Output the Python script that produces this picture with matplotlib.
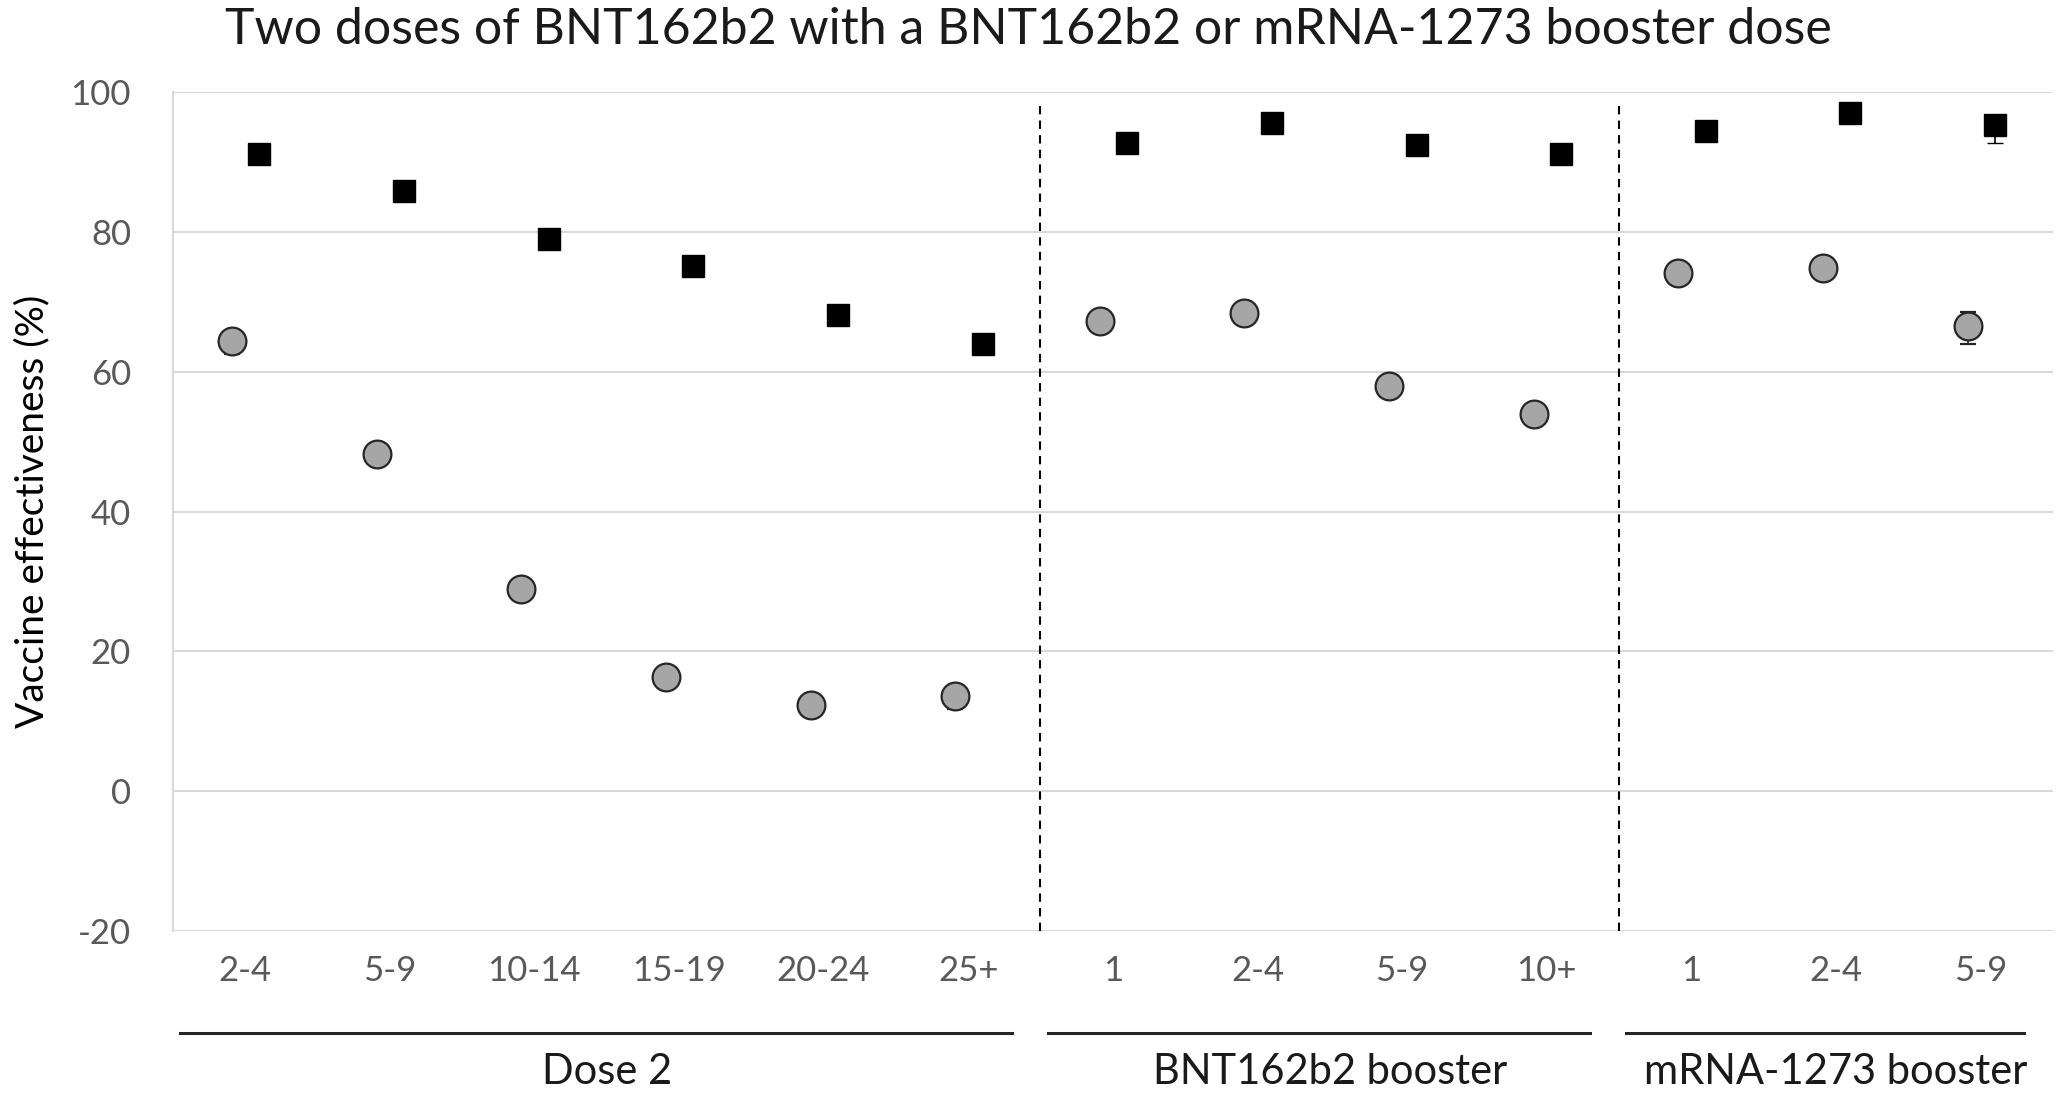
import numpy as np
import matplotlib
matplotlib.use("Agg")
import matplotlib.pyplot as plt
import matplotlib.transforms as mtransforms

plt.rcParams['font.family'] = ['Lato', 'DejaVu Sans']
plt.rcParams['axes.unicode_minus'] = False

# categories (weeks since dose) in three groups
categories = ["2-4", "5-9", "10-14", "15-19", "20-24", "25+",
              "1", "2-4", "5-9", "10+",
              "1", "2-4", "5-9"]
groups = [("Dose 2", 0, 5), ("BNT162b2 booster", 6, 9), ("mRNA-1273 booster", 10, 12)]

# gray circles
ve_circle = [64.4, 48.2, 28.9, 16.4, 12.4, 13.6, 67.3, 68.4, 58.0, 54.0, 74.1, 74.9, 66.5]
circle_lo = [1.8, 1.5, 0.8, 0.6, 0.6, 1.8, 0.5, 0.5, 0.5, 1.2, 0.8, 0.8, 2.5]
circle_hi = [1.0, 0.8, 0.8, 0.6, 0.6, 1.0, 0.5, 0.5, 0.5, 0.8, 0.8, 0.8, 2.0]

# black squares
ve_square = [91.2, 85.9, 79.0, 75.1, 68.1, 64.0, 92.8, 95.6, 92.4, 91.1, 94.4, 97.1, 95.3]
square_lo = [0.5, 0.5, 0.5, 0.5, 0.5, 0.5, 0.5, 0.5, 0.5, 0.5, 0.5, 0.6, 2.5]
square_hi = [0.5, 0.5, 0.5, 0.5, 0.5, 0.5, 0.5, 0.5, 0.5, 0.5, 0.5, 0.5, 0.8]

yticks = [-20, 0, 20, 40, 60, 80, 100]

fig = plt.figure(figsize=(20.56, 10.98), dpi=100)
ax = fig.add_axes([0.084, 0.152, 0.9145, 0.764])

x = np.arange(len(categories))

for yt in yticks:
    ax.axhline(yt, color="#d9d9d9", lw=1.5, zorder=0)

ax.errorbar(x - 0.09, ve_circle, yerr=[circle_lo, circle_hi], fmt="o", ms=20,
            mfc="#a6a6a6", mec="#262626", mew=1.6, ecolor="#262626",
            elinewidth=1.2, capsize=6, zorder=3)
ax.errorbar(x + 0.1, ve_square, yerr=[square_lo, square_hi], fmt="s", ms=16,
            mfc="black", mec="black", ecolor="black",
            elinewidth=1.2, capsize=6, zorder=3)

# dashed separators between groups
for name, start, end in groups[1:]:
    ax.plot([start - 0.5, start - 0.5], [98, -20], color="black", lw=1.5,
            ls=(0, (4, 3)), zorder=2)

ax.set_xlim(-0.5, len(categories) - 0.5)
ax.set_ylim(-20, 100)
ax.set_yticks(yticks)
ax.set_xticks(x)
ax.set_xticklabels(categories)
ax.tick_params(axis="both", length=0, labelsize=25, labelcolor="#595959")
ax.tick_params(axis="x", pad=17)
ax.tick_params(axis="y", pad=30)

for s in ["top", "right", "bottom"]:
    ax.spines[s].set_visible(False)
ax.spines["left"].set_color("#d9d9d9")
ax.spines["left"].set_linewidth(1.5)

ax.set_ylabel("Vaccine effectiveness (%)", fontsize=28, color="black")
ax.yaxis.set_label_coords(-0.065, 0.5)

# group lines and labels under the ticks
trans = mtransforms.blended_transform_factory(ax.transData, ax.transAxes)
for name, start, end in groups:
    ax.plot([start - 0.45, end + 0.3], [-0.122, -0.122], transform=trans,
            color="#262626", lw=2.2, clip_on=False)
    ax.text((start + end) / 2, -0.168, name, transform=trans, ha="center",
            va="center", fontsize=30, color="#1a1a1a")

fig.text(0.5, 0.973, "Two doses of BNT162b2 with a BNT162b2 or mRNA-1273 booster dose",
         ha="center", va="center", fontsize=36, color="#1a1a1a")

fig.savefig("out.png", dpi=100, facecolor="white")
